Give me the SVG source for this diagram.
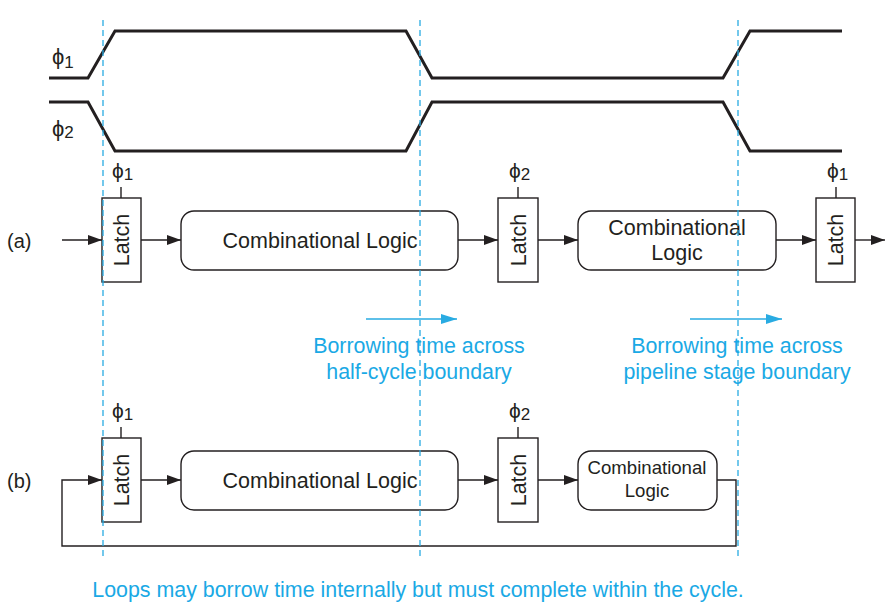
<svg xmlns="http://www.w3.org/2000/svg" width="885" height="606" viewBox="0 0 885 606">
<style>
.wave{fill:none;stroke:#231f20;stroke-width:3;stroke-linejoin:miter}
.box{fill:#fff;stroke:#231f20;stroke-width:1.4}
.wire{fill:none;stroke:#231f20;stroke-width:1.4}
.dash{fill:none;stroke:#29abe2;stroke-width:1.3;stroke-dasharray:6 4}
.barrow{fill:none;stroke:#29abe2;stroke-width:1.6}
.t{font-family:"Liberation Sans",Arial,sans-serif;fill:#231f20}
.b{font-family:"Liberation Sans",Arial,sans-serif;fill:#1aa9e5;font-size:21.4px;text-anchor:middle}
</style>
<defs>
<marker id="ah" viewBox="0 0 14 10" refX="14" refY="5" markerWidth="14" markerHeight="10" markerUnits="userSpaceOnUse" orient="auto"><path d="M0,0 L14,5 L0,10 Z" fill="#231f20"/></marker>
<marker id="bh" viewBox="0 0 16 10" refX="16" refY="5" markerWidth="16" markerHeight="10" markerUnits="userSpaceOnUse" orient="auto"><path d="M0,0 L16,5 L0,10 Z" fill="#29abe2"/></marker>
</defs>
<rect width="885" height="606" fill="#fff"/>

<g id="waveforms">
<path class="wave" d="M49,78 L88,78 L115,31 L406,31 L432,78 L723,78 L750,31 L842,31"/>
<path class="wave" d="M49,102 L88,102 L115,151 L406,151 L432,102 L723,102 L750,151 L842,151"/>
<text class="t" x="52" y="64" font-size="22">ϕ<tspan font-size="17" dy="4">1</tspan></text>
<text class="t" x="52" y="136" font-size="22">ϕ<tspan font-size="17" dy="2">2</tspan></text>
</g>

<g id="row-a">
<text class="t" x="7" y="248" font-size="20">(a)</text>
<g id="a-latch1">
<line class="wire" x1="121" y1="187" x2="121" y2="198"/>
<rect class="box" x="102" y="198" width="39" height="84"/>
<text class="t" x="112" y="178" font-size="21">ϕ<tspan font-size="17" dy="2">1</tspan></text>
<text class="t" font-size="21.5" text-anchor="middle" transform="translate(129,240) rotate(-90)">Latch</text>
</g>
<g id="a-cl1">
<rect class="box" x="181" y="211" width="277" height="59" rx="13"/>
<text class="t" x="320" y="248" font-size="21.5" text-anchor="middle">Combinational Logic</text>
</g>
<g id="a-latch2">
<line class="wire" x1="518" y1="187" x2="518" y2="198"/>
<rect class="box" x="498" y="198" width="40" height="84"/>
<text class="t" x="509" y="178" font-size="21">ϕ<tspan font-size="17" dy="2">2</tspan></text>
<text class="t" font-size="21.5" text-anchor="middle" transform="translate(525.5,240) rotate(-90)">Latch</text>
</g>
<g id="a-cl2">
<rect class="box" x="578" y="211" width="198" height="59" rx="13"/>
<text class="t" x="677" y="235" font-size="21.5" text-anchor="middle">Combinational</text>
<text class="t" x="677" y="260" font-size="21.5" text-anchor="middle">Logic</text>
</g>
<g id="a-latch3">
<line class="wire" x1="836" y1="187" x2="836" y2="198"/>
<rect class="box" x="816" y="198" width="39" height="84"/>
<text class="t" x="827" y="178" font-size="21">ϕ<tspan font-size="17" dy="2">1</tspan></text>
<text class="t" font-size="21.5" text-anchor="middle" transform="translate(843,240) rotate(-90)">Latch</text>
</g>
</g>

<g id="row-b">
<text class="t" x="7" y="488" font-size="20">(b)</text>
<g id="b-latch1">
<line class="wire" x1="121" y1="427" x2="121" y2="438"/>
<rect class="box" x="102" y="438" width="39" height="84"/>
<text class="t" x="112" y="418" font-size="21">ϕ<tspan font-size="17" dy="2">1</tspan></text>
<text class="t" font-size="21.5" text-anchor="middle" transform="translate(129,480) rotate(-90)">Latch</text>
</g>
<g id="b-cl1">
<rect class="box" x="181" y="451" width="277" height="59" rx="13"/>
<text class="t" x="320" y="488" font-size="21.5" text-anchor="middle">Combinational Logic</text>
</g>
<g id="b-latch2">
<line class="wire" x1="518" y1="427" x2="518" y2="438"/>
<rect class="box" x="498" y="438" width="40" height="84"/>
<text class="t" x="509" y="418" font-size="21">ϕ<tspan font-size="17" dy="2">2</tspan></text>
<text class="t" font-size="21.5" text-anchor="middle" transform="translate(525.5,480) rotate(-90)">Latch</text>
</g>
<g id="b-cl2">
<rect class="box" x="578" y="451" width="139" height="59" rx="13"/>
<text class="t" x="647" y="474" font-size="18.6" text-anchor="middle">Combinational</text>
<text class="t" x="647" y="497" font-size="18.6" text-anchor="middle">Logic</text>
</g>
</g>

<g id="connectors">
<line class="wire" x1="62" y1="240" x2="102" y2="240" marker-end="url(#ah)"/>
<line class="wire" x1="141" y1="240" x2="181" y2="240" marker-end="url(#ah)"/>
<line class="wire" x1="458" y1="240" x2="498" y2="240" marker-end="url(#ah)"/>
<line class="wire" x1="538" y1="240" x2="578" y2="240" marker-end="url(#ah)"/>
<line class="wire" x1="776" y1="240" x2="816" y2="240" marker-end="url(#ah)"/>
<line class="wire" x1="855" y1="240" x2="885" y2="240" marker-end="url(#ah)"/>
<line class="wire" x1="141" y1="480" x2="181" y2="480" marker-end="url(#ah)"/>
<line class="wire" x1="458" y1="480" x2="498" y2="480" marker-end="url(#ah)"/>
<line class="wire" x1="538" y1="480" x2="578" y2="480" marker-end="url(#ah)"/>
<path class="wire" d="M717,480 L736,480 L736,546 L62,546 L62,480 L102,480" marker-end="url(#ah)"/>
</g>

<g id="borrow">
<line class="dash" x1="103" y1="20" x2="103" y2="560"/>
<line class="dash" x1="420" y1="20" x2="420" y2="560"/>
<line class="dash" x1="738" y1="20" x2="738" y2="560"/>
<line class="barrow" x1="366" y1="319" x2="457" y2="319" marker-end="url(#bh)"/>
<line class="barrow" x1="690" y1="319" x2="782" y2="319" marker-end="url(#bh)"/>
<text class="b" x="419" y="353">Borrowing time across</text>
<text class="b" x="419" y="379">half-cycle boundary</text>
<text class="b" x="737" y="353">Borrowing time across</text>
<text class="b" x="737" y="379">pipeline stage boundary</text>
<text class="b" x="418" y="597">Loops may borrow time internally but must complete within the cycle.</text>
</g>
</svg>
